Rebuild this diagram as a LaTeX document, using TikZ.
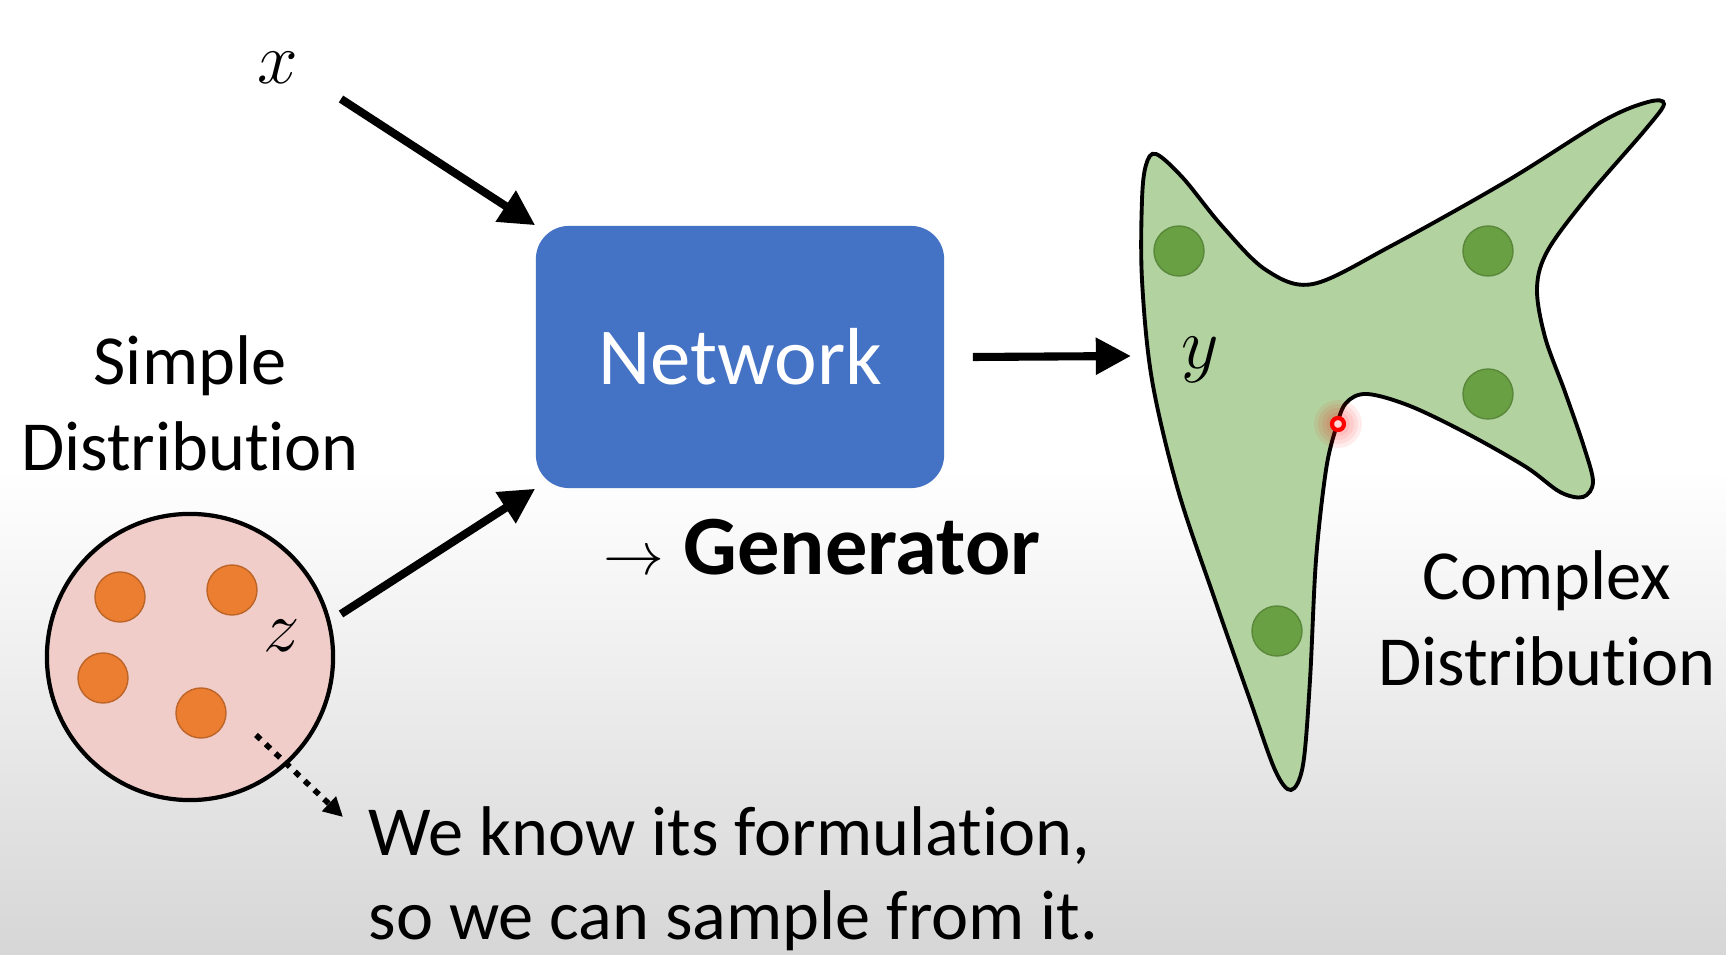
\documentclass[tikz,border=0pt]{standalone}
\usepackage{fontspec}
\setmainfont{Carlito}[Ligatures=NoCommon]
\definecolor{netblue}{RGB}{68,114,196}
\definecolor{blobgreen}{RGB}{178,211,160}
\definecolor{dotgreen}{RGB}{106,160,68}
\definecolor{ballpink}{RGB}{241,205,201}
\definecolor{dotorange}{RGB}{236,126,50}
\usetikzlibrary{arrows.meta,positioning,calc}
\tikzset{
  arr/.style={-{Triangle[length=10pt,width=10pt]}, line width=2.3pt},
  dotarr/.style={-{Triangle[length=5.5pt,width=5.5pt]}, line width=1.6pt,
                 dash pattern=on 1.8pt off 2pt},
  orangedot/.style={circle, fill=dotorange, draw=dotorange!80!black, thin,
                    minimum size=0.5cm, inner sep=0},
  greendot/.style={circle, fill=dotgreen, draw=dotgreen!85!black, thin,
                   minimum size=0.5cm, inner sep=0},
  lbl/.style={font=\fontsize{20}{24.5}\selectfont, inner sep=0},
  mathlbl/.style={font=\fontsize{20}{24}\selectfont, inner sep=0}
}

\begin{document}
\begin{tikzpicture}[x=0.01cm, y=-0.01cm]
    % Background
    \useasboundingbox (0,0) rectangle (1726,955);
    \fill[white] (0,0) rectangle (1726,955);
    \shade[top color=white, bottom color=black!16] (0,470) rectangle (1726,955);
    % Simple distribution
    \node[circle, draw, line width=1.2pt, fill=ballpink,
          minimum size=2.86cm, inner sep=0] (ball) at (190,657) {};
    \foreach \px/\py [count=\i] in {120/597, 232/590, 103/678, 201/713}
      \node[orangedot] (odot\i) at (\px,\py) {};
    \node[mathlbl] (zlbl) at (282,636) {$z$};
    \node[lbl, align=center] (simplelbl) at (190,403) {Simple\\Distribution};
    % Network box
    \node[rounded corners=0.33cm, fill=netblue, minimum width=4.08cm,
          minimum height=2.62cm, text=white,
          font=\fontsize{23}{28}\selectfont] (net) at (740,357) {Network};
    \node[anchor=west, inner sep=0, font=\fontsize{24}{28}\selectfont] (genlbl)
      at (603,547) {{\fontsize{18}{18}\selectfont$\rightarrow$}\ \textbf{Generator}};
    % Input x
    \node[mathlbl] (xlbl) at (278,68) {$x$};
    \coordinate (xtail) at (341,99);
    \draw[arr] (xtail) -- (net.north west);
    \coordinate (ztail) at (341,614);
    \draw[arr] (ztail) -- (net.south west);
    % Complex distribution
    \draw[line width=1.1pt, fill=blobgreen] plot[smooth cycle, tension=0.55] coordinates {
      (1156,154) (1183,178) (1222,226) (1266,270) (1313,284) (1391,246)
      (1507,181) (1603,121) (1648,102) (1664,104) (1645,130) (1588,196)
      (1548,250) (1537,288) (1545,337) (1565,392) (1584,447) (1593,482)
      (1583,497) (1560,492) (1526,467) (1468,434) (1410,406) (1367,394)
      (1346,403) (1336,428) (1326,470) (1316,560) (1310,680) (1303,765)
      (1291,790) (1275,770) (1250,700) (1215,600) (1178,490) (1152,380)
      (1142,280) (1142,200) (1146,165)};
    \foreach \px/\py [count=\i] in {1179/251, 1488/251, 1488/394, 1277/631}
      \node[greendot] (gdot\i) at (\px,\py) {};
    \node[mathlbl] (ylbl) at (1200,360) {$y$};
    \coordinate (ytip) at (1131,356);
    \draw[arr] ([xshift=0.28cm]net.east) -- (ytip);
    % laser pointer
    \foreach \r in {24,20,...,8}
      \fill[red, opacity=0.07] (1338,424) circle[radius=\r];
    \draw[red, line width=1.2pt, fill=red!15] (1338,424) circle[radius=6];
    \node[lbl, align=center] (complexlbl) at (1547,618) {Complex\\Distribution};
    % Sampling note
    \coordinate (dottail) at (256,735);
    \coordinate (dottip) at (343,817);
    \draw[dotarr] (dottail) -- (dottip);
    \node[lbl, align=left, anchor=west, font=\fontsize{20}{24}\selectfont]
      (formula) at (368,879) {We know its formulation,\\so we can sample from it.};
\end{tikzpicture}
\end{document}
